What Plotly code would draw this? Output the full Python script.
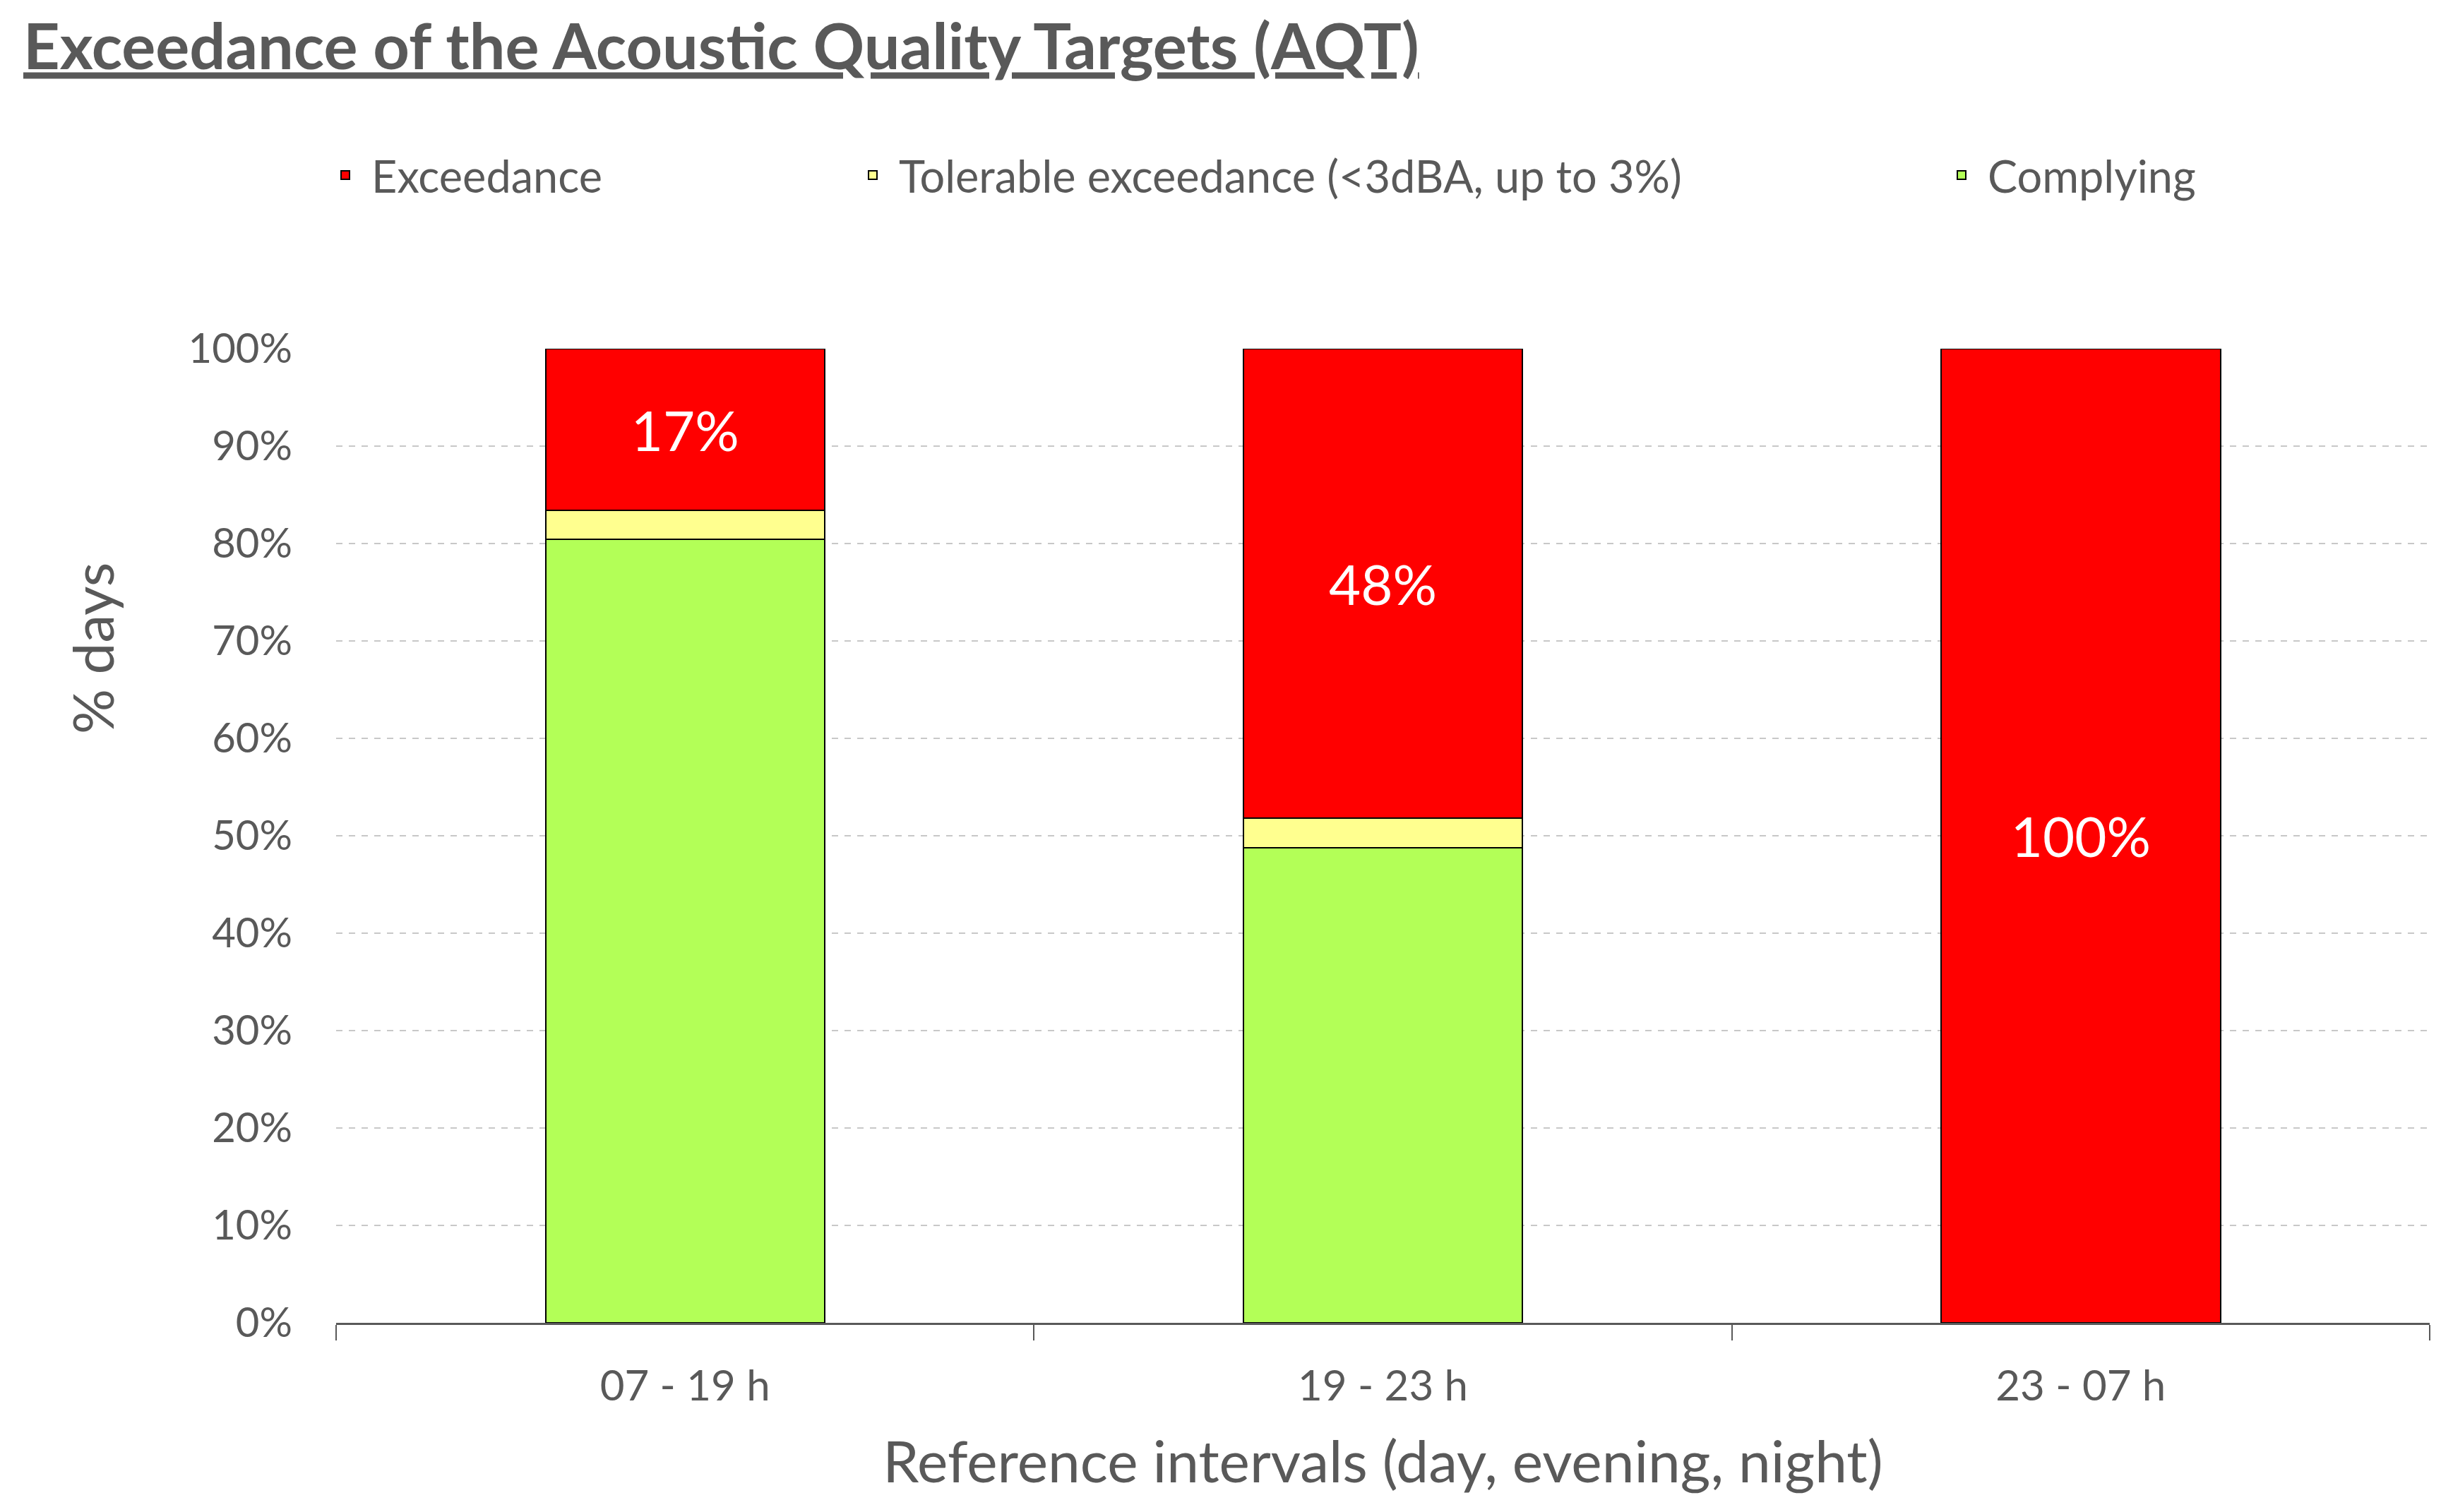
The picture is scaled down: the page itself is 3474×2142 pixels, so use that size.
import plotly.graph_objects as go

categories = ["07 - 19 h", "19 - 23 h", "23 - 07 h"]
complying = [0.804, 0.488, 0.0]
tolerable = [0.030, 0.030, 0.0]
exceedance = [0.166, 0.482, 1.0]
y_ticks = [0.0, 0.1, 0.2, 0.3, 0.4, 0.5, 0.6, 0.7, 0.8, 0.9, 1.0]

FONT = "Lato"
GRAY = "#595959"

# page body has an 8px margin; work in reference pixel coords and shift
OFF = 8
W, H = 3474 - 2 * OFF, 2142 - 2 * OFF
PL, PR, PT, PB = 476 - OFF, 3441 - OFF, 494 - OFF, 1874 - OFF
L, R, T, B = PL, W - PR, PT, H - PB

fig = go.Figure()
fig.add_trace(go.Bar(
    x=categories, y=complying, name="Complying",
    marker=dict(color="#B3FF57", line=dict(color="#000000", width=2)),
    legend="legend3",
))
fig.add_trace(go.Bar(
    x=categories, y=tolerable, name="Tolerable exceedance (<3dBA, up to 3%)",
    marker=dict(color="#FFFF8F", line=dict(color="#000000", width=2)),
    legend="legend2",
))
fig.add_trace(go.Bar(
    x=categories, y=exceedance, name="Exceedance",
    marker=dict(color="#FF0000", line=dict(color="#000000", width=2)),
    text=[f"{round(v * 100)}%" for v in exceedance],
    textposition="inside", insidetextanchor="middle", textangle=0,
    constraintext="none",
    textfont=dict(family=FONT, size=78, color="#FFFFFF"),
    legend="legend",
))

pw = PR - PL
ph = PB - PT

def px_x(p):
    return (p - OFF - PL) / pw

def px_y(p):
    return (PB - (p - OFF)) / ph

legend_common = dict(
    orientation="h", xanchor="left", yanchor="middle",
    y=px_y(248), font=dict(family=FONT, size=63, color=GRAY),
    bgcolor="rgba(0,0,0,0)", itemwidth=64,
)

fig.update_layout(
    width=W, height=H,
    margin=dict(l=L, r=R, t=T, b=B),
    barmode="stack",
    bargap=0.6,
    showlegend=True,
    plot_bgcolor="#FFFFFF",
    paper_bgcolor="#FFFFFF",
    font=dict(family=FONT, color=GRAY),
    title=dict(
        text="Exceedance of the Acoustic Quality Targets (AQT)",
        font=dict(family=FONT, size=90, color=GRAY, weight="bold", lineposition="under"),
        xref="container", x=(33 - OFF) / W, xanchor="left",
        yref="container", y=1 - (66 - OFF) / H, yanchor="middle",
    ),
    legend=dict(**legend_common, x=px_x(452)),
    legend2=dict(**legend_common, x=px_x(1199)),
    legend3=dict(**legend_common, x=px_x(2741)),
    xaxis=dict(
        type="category",
        tickson="boundaries",
        ticks="outside", ticklen=22, tickwidth=2, tickcolor=GRAY,
        showline=True, linecolor=GRAY, linewidth=3,
        showgrid=False,
        ticklabelstandoff=35,
        tickfont=dict(family=FONT, size=60, color=GRAY),
        title=dict(text="Reference intervals (day, evening, night)",
                   font=dict(family=FONT, size=82, color=GRAY), standoff=47),
    ),
    yaxis=dict(
        range=[0, 1],
        tickvals=y_ticks,
        tickformat=".0%",
        showline=False,
        showgrid=True, gridcolor="#C8C8C8", gridwidth=2, griddash="dash",
        zeroline=False,
        ticks="", ticklabelstandoff=61,
        tickfont=dict(family=FONT, size=58, color=GRAY),
    ),
    annotations=[dict(
        text="% days", textangle=-90,
        xref="paper", yref="paper", x=px_x(130), y=px_y(919),
        xanchor="center", yanchor="middle", showarrow=False,
        font=dict(family=FONT, size=80, color=GRAY),
    )],
)

fig.write_html("out.html")
